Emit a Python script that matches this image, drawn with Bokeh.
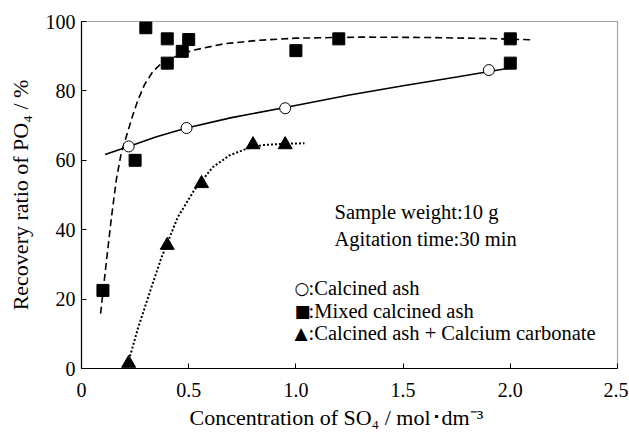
from bokeh.plotting import figure
from bokeh.models import Range1d, FixedTicker, Label, Title
from bokeh.embed import file_html
from bokeh.resources import INLINE

# ---- data ----
ash_x = [0.22, 0.49, 0.95, 1.90]
ash_y = [64.0, 69.3, 75.0, 86.0]

mixed_x = [0.10, 0.25, 0.30, 0.40, 0.40, 0.47, 0.50, 1.00, 1.20, 2.00, 2.00]
mixed_y = [22.5, 60.0, 98.2, 95.0, 88.0, 91.4, 94.8, 91.6, 95.0, 95.0, 88.0]

caco3_x = [0.22, 0.40, 0.56, 0.80, 0.95]
caco3_y = [1.5, 35.5, 53.3, 64.5, 64.5]

# trend curves as drawn in the reference
trend_ash_x = [0.11, 0.22, 0.35, 0.49, 0.70, 0.95, 1.25, 1.50, 1.75, 2.00]
trend_ash_y = [61.7, 64.0, 66.8, 69.3, 72.3, 75.2, 78.8, 81.5, 84.0, 86.6]

trend_mixed_x = [0.089, 0.115, 0.138, 0.162, 0.185, 0.216, 0.239, 0.263, 0.294,
                 0.333, 0.372, 0.449, 0.527, 0.667, 0.83, 1.0, 1.3, 1.6, 1.9, 2.11]
trend_mixed_y = [15.8, 30.2, 42.7, 54.2, 62.0, 68.3, 73.0, 77.3, 81.8,
                 85.6, 87.9, 90.2, 91.8, 93.6, 94.6, 95.2, 95.5, 95.4, 95.1, 94.7]

trend_caco3_x = [0.216, 0.263, 0.325, 0.372, 0.449, 0.527, 0.612, 0.69, 0.768, 0.846, 0.95, 1.04]
trend_caco3_y = [1.3, 11.5, 23.2, 31.8, 43.6, 51.5, 58.0, 61.4, 63.3, 64.4, 64.8, 64.9]

x_ticks = [0, 0.5, 1.0, 1.5, 2.0, 2.5]
x_tick_labels = ["0", "0.5", "1.0", "1.5", "2.0", "2.5"]
y_ticks = [0, 20, 40, 60, 80, 100]
y_tick_labels = ["0", "20", "40", "60", "80", "100"]

legend_symbols = ["○", "■", "▲"]
legend_labels = [":Calcined ash", ":Mixed calcined ash", ":Calcined ash + Calcium carbonate"]
note_labels = ["Sample weight:10 g", "Agitation time:30 min"]
x_title = "Concentration of SO₄ / mol･dm⁻³"
y_title = "Recovery ratio of PO₄ / %"

FONT = "Liberation Serif"

p = figure(width=628, height=436, x_range=Range1d(0, 2.5), y_range=Range1d(0, 100),
           output_backend="svg", toolbar_location=None,
           min_border_left=81, min_border_right=11, min_border_top=21, min_border_bottom=68)
p.xgrid.visible = False
p.ygrid.visible = False
p.outline_line_color = "#a6a6a6"
p.outline_line_width = 1.2
p.background_fill_color = "white"
p.border_fill_color = "white"

for ax in (p.xaxis[0], p.yaxis[0]):
    ax.axis_line_color = "black"
    ax.axis_line_width = 1.2
    ax.major_tick_line_color = "black"
    ax.major_tick_in = 5
    ax.major_tick_out = 0
    ax.minor_tick_line_color = None
    ax.major_label_text_font = FONT
    ax.major_label_text_font_size = "20px"
    ax.major_label_text_color = "black"
    ax.axis_label_text_font = FONT
    ax.axis_label_text_font_size = "22px"
    ax.axis_label_text_font_style = "normal"
    ax.axis_label_text_color = "black"

p.xaxis.ticker = FixedTicker(ticks=x_ticks)
p.xaxis.major_label_overrides = {t: l for t, l in zip(x_ticks, x_tick_labels)}
p.yaxis.ticker = FixedTicker(ticks=y_ticks)
p.yaxis.major_label_overrides = {t: l for t, l in zip(y_ticks, y_tick_labels)}
p.xaxis.major_label_standoff = 14
p.yaxis.major_label_standoff = 6
p.yaxis.axis_label = y_title
p.yaxis.axis_label_standoff = 10

# x-axis title, a little left of centre as in the reference
p.add_layout(Title(text=x_title, align="left", offset=108, standoff=6,
                   text_font=FONT, text_font_size="22px", text_font_style="normal",
                   text_color="black"), "below")

# trend lines
p.line(trend_mixed_x, trend_mixed_y, line_color="black", line_width=1.6, line_dash="7 4")
p.line(trend_ash_x, trend_ash_y, line_color="black", line_width=1.6)
p.line(trend_caco3_x, trend_caco3_y, line_color="black", line_width=2, line_dash="2 2")

# markers
p.scatter(mixed_x, mixed_y, marker="square", size=12, fill_color="black", line_color="black")
p.scatter(ash_x, ash_y, marker="circle", size=11, fill_color="white", line_color="black", line_width=1)
p.scatter(caco3_x, caco3_y, marker="triangle", size=14, fill_color="black", line_color="black")

# notes
for txt, yv in zip(note_labels, [45.0, 37.4]):
    p.add_layout(Label(x=1.18, y=yv, text=txt, text_font=FONT, text_font_size="20.5px",
                       text_baseline="middle", text_color="black"))

# legend as text
for sym, txt, yv in zip(legend_symbols, legend_labels, [23.3, 16.7, 10.1]):
    p.add_layout(Label(x=0.9935, y=yv, text=sym, text_font="DejaVu Sans", text_font_size="17px",
                       text_baseline="middle", text_color="black"))
    p.add_layout(Label(x=1.059, y=yv, text=txt, text_font=FONT, text_font_size="20.5px",
                       text_baseline="middle", text_color="black"))

open("out.html", "w").write(file_html(p, INLINE))
